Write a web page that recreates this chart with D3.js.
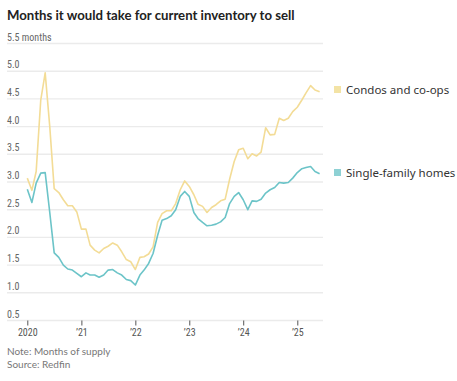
<!DOCTYPE html>
<html><head><meta charset="utf-8">
<script src="https://cdn.jsdelivr.net/npm/d3@7"></script>
<style>body{margin:0;background:#fff}</style>
</head><body>
<svg id="c" width="457" height="381"></svg>
<script>
const startMonth = "2020-01";
const condos = [3.07,2.85,3.19,4.48,4.97,4.0,2.88,2.81,2.68,2.57,2.57,2.46,
2.15,2.15,1.86,1.77,1.72,1.80,1.84,1.90,1.86,1.74,1.60,1.56,
1.42,1.64,1.65,1.70,1.83,2.27,2.43,2.48,2.48,2.61,2.86,3.02,
2.92,2.77,2.60,2.56,2.45,2.54,2.59,2.66,2.69,3.05,3.37,3.58,
3.61,3.42,3.51,3.47,3.54,3.98,3.85,3.86,4.15,4.11,4.15,4.27,
4.35,4.48,4.61,4.74,4.66,4.63];
const single = [2.87,2.63,2.98,3.16,3.17,2.45,1.72,1.64,1.50,1.43,1.41,1.35,
1.29,1.36,1.32,1.32,1.28,1.32,1.41,1.42,1.36,1.32,1.24,1.22,
1.14,1.32,1.41,1.53,1.71,2.04,2.31,2.34,2.39,2.50,2.74,2.83,
2.74,2.45,2.34,2.27,2.21,2.22,2.24,2.28,2.36,2.61,2.74,2.81,
2.68,2.50,2.66,2.65,2.69,2.80,2.86,2.90,2.99,2.98,2.99,3.07,
3.17,3.24,3.26,3.28,3.19,3.15];
const yTicks = [0.5,1.0,1.5,2.0,2.5,3.0,3.5,4.0,4.5,5.0,5.5];
const xTickYears = [2020,2021,2022,2023,2024,2025];
const xTickLabels = ["2020","\u201921","\u201922","\u201923","\u201924","\u201925"];
const seriesNames = ["Condos and co-ops","Single-family homes"];
const colors = ["#f3dc96","#6cc4c8"];
const legendColors = ["#f3e3a5","#8ed1d4"];

const svg = d3.select("#c");
const parse = d3.timeParse("%Y-%m");
const d0 = parse(startMonth);
const dates = condos.map((_, i) => d3.timeMonth.offset(d0, i));

const x = d3.scaleTime().domain([new Date(2020,0,1), new Date(2025,0,1)]).range([27.3, 297.3]);
const y = d3.scaleLinear().domain([0.5,5.5]).range([320.5,43.5]);
const gridX0 = 7, gridX1 = 323;

const condensed = "'Liberation Sans Narrow','Arial Narrow','Roboto Condensed',sans-serif";

svg.append("text").attr("x",7).attr("y",20).text("Months it would take for current inventory to sell")
  .attr("font-family","Lato, 'Noto Sans', sans-serif").attr("font-weight","bold").attr("font-size",13.2).attr("fill","#222");

// grid
const g = svg.append("g");
g.selectAll("line.grid").data(yTicks).join("line")
  .attr("x1",gridX0).attr("x2",gridX1).attr("y1",d=>y(d)).attr("y2",d=>y(d))
  .attr("stroke","#ebebeb").attr("stroke-width",1.4);
g.selectAll("text.yl").data(yTicks).join("text")
  .attr("x",gridX0).attr("y",d=>y(d)-3)
  .text(d => d===5.5 ? "5.5 months" : d3.format(".1f")(d))
  .attr("font-family",condensed).attr("font-size",10).attr("fill","#666");

// x axis
const xa = svg.append("g").attr("transform",`translate(0,${y(0.5)})`)
  .call(d3.axisBottom(x).tickValues(xTickYears.map(v=>new Date(v,0,1)))
    .tickFormat((d,i)=>xTickLabels[i]).tickSize(5).tickPadding(3));
xa.select(".domain").remove();
xa.selectAll(".tick line").attr("stroke","#555");
xa.selectAll(".tick text").attr("font-family",condensed).attr("font-size",10).attr("fill","#555");

// lines
const line = d3.line().x((d,i)=>x(dates[i])).y(d=>y(d));
[condos, single].forEach((s,k)=>{
  svg.append("path").datum(s).attr("d",line).attr("fill","none")
    .attr("stroke",colors[k]).attr("stroke-width",1.6).attr("stroke-linejoin","round");
});

// legend
const legY = [89.5, 172.5];
seriesNames.forEach((n,k)=>{
  svg.append("rect").attr("x",334).attr("y",legY[k]-3.5).attr("width",7).attr("height",7).attr("fill",legendColors[k]);
  svg.append("text").attr("x",346).attr("y",legY[k]+4).text(n)
    .attr("font-family","'Noto Sans', sans-serif").attr("font-size",11.5).attr("fill","#333");
});

svg.append("text").attr("x",7).attr("y",355).text("Note: Months of supply")
  .attr("font-family","Lato, sans-serif").attr("font-size",10).attr("fill","#777");
svg.append("text").attr("x",7).attr("y",368).text("Source: Redfin")
  .attr("font-family","Lato, sans-serif").attr("font-size",10).attr("fill","#777");
</script>
</body></html>
